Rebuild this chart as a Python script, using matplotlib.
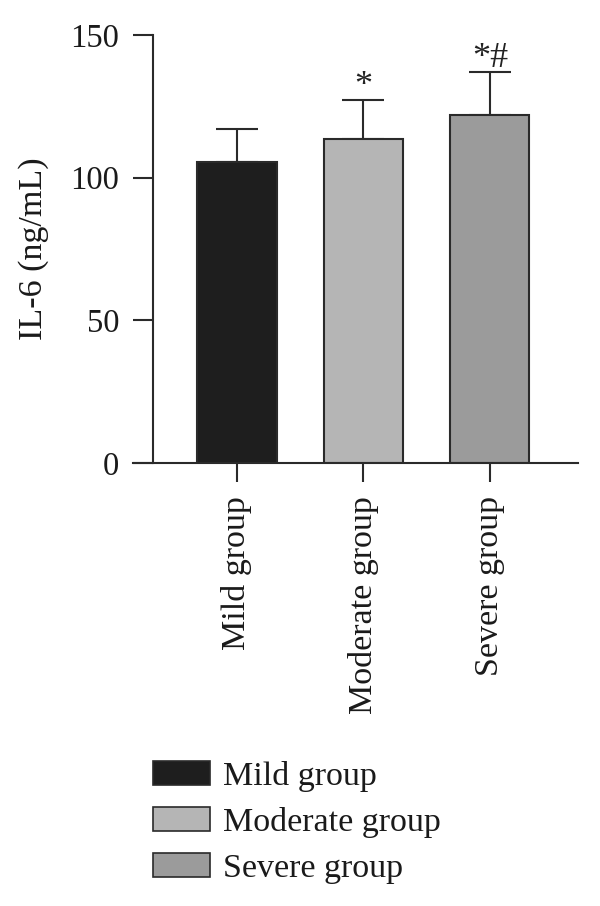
import matplotlib.pyplot as plt
from matplotlib.patches import Patch

plt.rcParams['font.family'] = ['Liberation Serif', 'DejaVu Serif']

# data
groups = ['Mild group', 'Moderate group', 'Severe group']
means = [105.5, 113.5, 122.0]
sds = [11.5, 13.7, 15.0]
marks = ['', '*', '*#']
colors = ['#1e1e1e', '#b5b5b5', '#9b9b9b']
yticks = [0, 50, 100, 150]

fig = plt.figure(figsize=(6, 9.06), dpi=100)
ax = fig.add_axes([133 / 600, 443 / 906, 445 / 600, 428 / 906])

x = list(range(len(groups)))
ax.errorbar(x, means, yerr=[[0] * len(sds), sds], fmt='none', ecolor='#2a2a2a',
            elinewidth=1.5, capsize=15, capthick=1.5, zorder=1)
ax.bar(x, means, width=0.625, color=colors, edgecolor='#2a2a2a', linewidth=1.5, zorder=2)

for i, m in enumerate(marks):
    if m:
        ax.annotate(m, xy=(i, means[i] + sds[i]), xytext=(0, -2), textcoords='offset points',
                    ha='center', va='bottom', fontsize=26, color='#222222')

ax.set_xlim(-0.822, 2.696)
ax.set_ylim(0, 150)
ax.set_yticks(yticks)
ax.set_xticks(x)
ax.set_xticklabels(groups, rotation=90, fontsize=24.5, color='#1a1a1a')
ax.tick_params(axis='y', labelsize=23.5, labelcolor='#1a1a1a', length=14.4, width=1.5,
               pad=10, color='#2a2a2a')
ax.tick_params(axis='x', length=13.5, width=1.5, pad=10, color='#2a2a2a')
ax.set_ylabel('IL-6 (ng/mL)', fontsize=24.5, labelpad=15, color='#1a1a1a')

ax.spines['top'].set_visible(False)
ax.spines['right'].set_visible(False)
ax.spines['left'].set_position(('data', -0.664))
for s in ['left', 'bottom']:
    ax.spines[s].set_linewidth(1.5)
    ax.spines[s].set_color('#2a2a2a')

handles = [Patch(facecolor=c, edgecolor='#2a2a2a', linewidth=1.2) for c in colors]
fig.legend(handles, groups, loc='upper left', bbox_to_anchor=(153 / 600, 1 - 761 / 906),
           frameon=False, fontsize=24.5, handlelength=1.68, handleheight=0.7,
           handletextpad=0.38, labelspacing=0.44, borderpad=0, borderaxespad=0,
           labelcolor='#1a1a1a')

fig.savefig('out.png', dpi=100)
